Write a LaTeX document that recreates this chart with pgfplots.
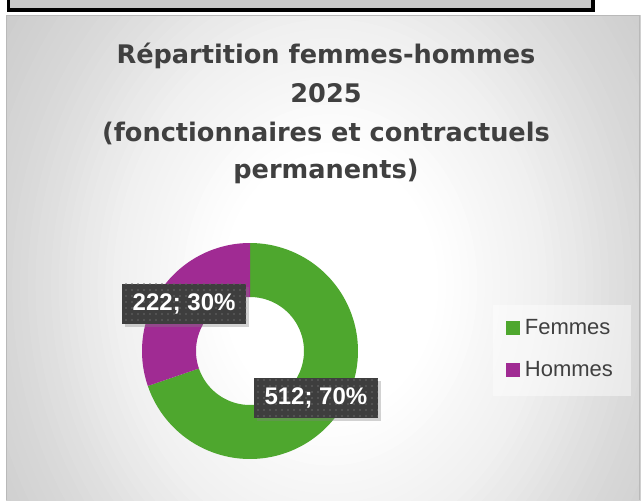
\documentclass[border=0pt]{standalone}
\usepackage{pgfplots}
\pgfplotsset{compat=1.18}
\usepackage{pgfplotstable}
\usepackage{fontspec}
\setmainfont{Liberation Sans}
\newfontfamily\titlefont{DejaVu Sans}
\usetikzlibrary{shadows,patterns.meta}
\definecolor{femmes}{RGB}{78,167,46}
\definecolor{hommes}{RGB}{160,43,147}
\definecolor{titlegray}{RGB}{64,64,64}
\definecolor{boxgray}{RGB}{62,62,62}
\definecolor{framegray}{RGB}{200,200,200}

\pgfplotstableread{
label value
Femmes 512
Hommes 222
}\piedata
\pgfplotstablegetelem{0}{value}\of\piedata \let\vF\pgfplotsretval
\pgfplotstablegetelem{1}{value}\of\piedata \let\vH\pgfplotsretval
\pgfmathsetmacro\total{\vF+\vH}
\pgfmathsetmacro\fracF{\vF/\total}
\pgfmathsetmacro\fracH{\vH/\total}
\pgfmathsetmacro\aF{90}
\pgfmathsetmacro\bF{90-360*\fracF}
\pgfmathsetmacro\aH{\bF}
\pgfmathsetmacro\bH{-270}
\pgfmathsetmacro\mF{(\aF+\bF)/2}
\pgfmathsetmacro\mH{(\aH+\bH)/2}
\pgfmathtruncatemacro\pF{round(100*\fracF)}
\pgfmathtruncatemacro\pH{round(100*\fracH)}

\tikzset{lbl/.style={fill=boxgray, text=white, font=\bfseries\fontsize{18}{20}\selectfont,
  minimum width=93pt, minimum height=30pt, inner sep=0pt,
  drop shadow={shadow xshift=2pt, shadow yshift=-2pt, opacity=0.35},
  postaction={pattern color=white!22!boxgray, pattern={Dots[distance=4.5pt, radius=0.6pt]}}}}

\begin{document}
\begin{tikzpicture}
\begin{scope}[x=0.75pt,y=-0.75pt]
\useasboundingbox (0,0) rectangle (642,500);
\fill[white] (0,0) rectangle (642,500);
% top frame (cut)
\fill[black] (7,0) rectangle (595,12);
\fill[framegray] (10,0) rectangle (591,8);
% chart area with stepped radial gradient
\begin{scope}
\clip (6,15) rectangle (640,500);
\foreach \r in {1.5,1.475,...,0.33} {
  \pgfmathsetmacro\g{(\r<0.35)?1:((\r<0.7)?(1-0.171*(\r-0.35)):((\r<1.0)?(0.94-0.283*(\r-0.7)):(0.855-0.2*(\r-1.0))))}
  \definecolor{tmpbg}{gray}{\g}
  \fill[tmpbg] (330,285) ellipse [x radius={310*\r}, y radius={380*\r}];
}
\end{scope}
\draw[gray!55, line width=1.2pt] (6.5,500) -- (6.5,15.5) -- (639.5,15.5) -- (639.5,500);
% legend background
\fill[white, opacity=0.45] (493,305) rectangle (631,396);
% title
\begin{scope}[every node/.style={anchor=base, text=titlegray, font=\titlefont\bfseries\fontsize{19.2}{23}\selectfont, inner sep=0pt}]
\node at (326,63) {Répartition femmes-hommes};
\node at (326,102) {2025};
\node at (326,141.5) {(fonctionnaires et contractuels};
\node at (326,178) {permanents)};
\end{scope}
\end{scope}

\begin{axis}[at={(187.5pt,-263.25pt)}, anchor=center,
  width=162pt, height=162pt, scale only axis, hide axis,
  xmin=-1, xmax=1, ymin=-1, ymax=1, clip=false,
  legend cell align=left,
  legend image code/.code={\fill[#1] (0pt,-5.25pt) rectangle (10.5pt,5.25pt);},
  legend style={at={(rel axis cs:1.685,0.648)}, anchor=north west, draw=none, fill=none,
    inner sep=0pt, row sep=19pt, column sep=3.5pt,
    font=\fontsize{16.5}{18}\selectfont, text=titlegray,
    nodes={inner sep=0pt}},
]
\addplot[fill=femmes, draw=none, domain=0:3, samples=301, variable=\t]
  ({(1-0.5*min(max(\t-1,0),1))*cos(\aF+(\bF-\aF)*(min(\t,1)-max(\t-2,0)))},
   {(1-0.5*min(max(\t-1,0),1))*sin(\aF+(\bF-\aF)*(min(\t,1)-max(\t-2,0)))});
\addlegendentry{Femmes}
\addplot[fill=hommes, draw=none, domain=0:3, samples=301, variable=\t]
  ({(1-0.5*min(max(\t-1,0),1))*cos(\aH+(\bH-\aH)*(min(\t,1)-max(\t-2,0)))},
   {(1-0.5*min(max(\t-1,0),1))*sin(\aH+(\bH-\aH)*(min(\t,1)-max(\t-2,0)))});
\addlegendentry{Hommes}
\node[lbl] at (axis cs:{0.75*cos(\mH)},{0.75*sin(\mH)}) {\vH; \pH\%};
\node[lbl] at (axis cs:{0.75*cos(\mF)},{0.75*sin(\mF)}) {\vF; \pF\%};
\end{axis}
\end{tikzpicture}
\end{document}
